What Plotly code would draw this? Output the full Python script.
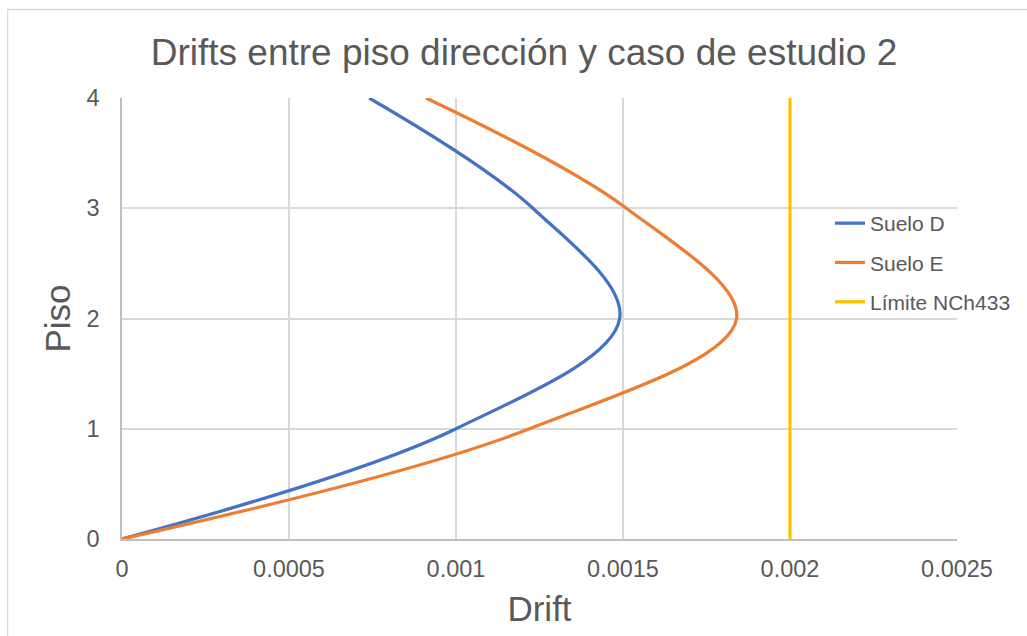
import plotly.graph_objects as go

# Storey levels and inter-storey drift per soil type
pisos = [0, 1, 2, 3, 4]
drift_suelo_d = [0.0, 0.00100, 0.00149, 0.00123, 0.00074]
drift_suelo_e = [0.0, 0.00122, 0.00184, 0.00151, 0.00091]

# NCh433 drift limit
limite_x = [0.002, 0.002]
limite_y = [0, 4]

x_ticks = [0, 0.0005, 0.001, 0.0015, 0.002, 0.0025]
x_tick_labels = ["0", "0.0005", "0.001", "0.0015", "0.002", "0.0025"]
y_ticks = [0, 1, 2, 3, 4]
y_tick_labels = ["0", "1", "2", "3", "4"]

FONT = "Liberation Sans, Arial, sans-serif"
TEXT = "#595959"
GRID = "#D9D9D9"

fig = go.Figure()
fig.add_trace(go.Scatter(
    x=drift_suelo_d, y=pisos, mode="lines", name="Suelo D", legendgroup="d",
    line=dict(color="#4472C4", width=3.25, shape="spline", smoothing=1.0),
))
fig.add_trace(go.Scatter(
    x=drift_suelo_e, y=pisos, mode="lines", name="Suelo E", legendgroup="e",
    line=dict(color="#ED7D31", width=3.25, shape="spline", smoothing=1.0),
))
fig.add_trace(go.Scatter(
    x=limite_x, y=limite_y, mode="lines", name="Límite NCh433", legendgroup="l",
    line=dict(color="#FFC000", width=3.25),
))

W, H = 1027, 636
L, R, T, B = 122, 69, 98, 97
pw, ph = W - L - R, H - T - B

fig.update_layout(
    width=W, height=H,
    margin=dict(l=L, r=R, t=T, b=B),
    paper_bgcolor="white", plot_bgcolor="white",
    font=dict(family=FONT, color=TEXT),
    title=dict(
        text="Drifts entre piso dirección y caso de estudio 2",
        font=dict(size=37, color=TEXT, family=FONT),
        x=524 / W, xanchor="center", y=1 - 52 / H, yanchor="middle",
    ),
    xaxis=dict(
        range=[0, 0.0025], tickvals=x_ticks, ticktext=x_tick_labels,
        showgrid=True, gridcolor=GRID, gridwidth=1.6,
        showline=True, linecolor="#BFBFBF", linewidth=1.6,
        zeroline=False, ticks="", ticklabelstandoff=8,
        tickfont=dict(size=23.5, color=TEXT),
        title=dict(text="Drift", font=dict(size=35, color=TEXT), standoff=15),
        fixedrange=True,
    ),
    yaxis=dict(
        range=[0, 4], tickvals=y_ticks, ticktext=y_tick_labels,
        showgrid=True, gridcolor=GRID, gridwidth=1.6,
        showline=True, linecolor="#BFBFBF", linewidth=1.6,
        zeroline=False, ticks="", ticklabelstandoff=16,
        tickfont=dict(size=23.5, color=TEXT),
        title=dict(text="Piso", font=dict(size=35, color=TEXT), standoff=5),
        fixedrange=True,
    ),
    legend=dict(
        x=(830 - L) / pw, xanchor="left",
        y=(H - B - 203) / ph, yanchor="top",
        bgcolor="rgba(0,0,0,0)", borderwidth=0,
        font=dict(size=21, color=TEXT, family=FONT),
        traceorder="grouped", tracegroupgap=9,
    ),
    showlegend=True,
)

# Outer chart frame
fig.add_shape(
    type="rect", xref="paper", yref="paper",
    x0=(7.5 - L) / pw, x1=(W + 5 - L) / pw,
    y0=(H - B - (H + 5)) / ph, y1=(H - B - 9.5) / ph,
    line=dict(color=GRID, width=1.3), fillcolor="rgba(0,0,0,0)", layer="below",
)

fig.write_html("out.html")
